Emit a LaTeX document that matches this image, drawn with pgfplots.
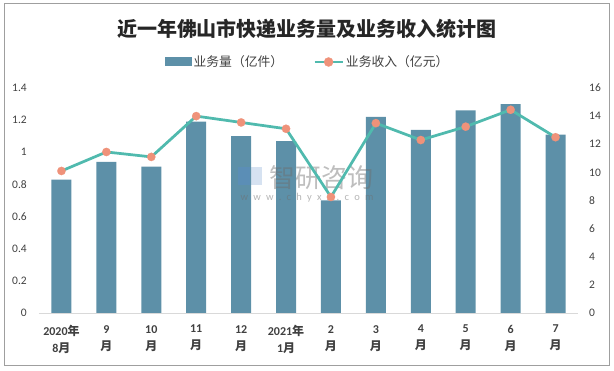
\documentclass[border=0pt]{standalone}
\usepackage{pgfplots}
\pgfplotsset{compat=1.18}
\usepackage{fontspec}
\setmainfont{Carlito}
\newfontfamily\cjk{Noto Sans CJK SC}
\definecolor{barc}{RGB}{93,144,168}
\definecolor{linec}{RGB}{80,186,174}
\definecolor{markc}{RGB}{239,146,122}
\definecolor{txt}{RGB}{64,64,64}
\definecolor{wm}{RGB}{110,110,110}
\definecolor{wmb}{RGB}{90,140,200}
\begin{document}
\begin{tikzpicture}[x=1pt,y=1pt]
\path[use as bounding box] (0,0) rectangle (614,371);
\draw[gray!75, line width=1pt] (4.5,5) rectangle (609.5,367.5);
\node[font=\cjk\bfseries\fontsize{20}{24}\selectfont, text=black!85] at (307,342) {近一年佛山市快递业务量及业务收入统计图};
\begin{axis}[
  at={(39pt,58pt)}, anchor=south west,
  scale only axis, width=539pt, height=225pt,
  xmin=-0.5, xmax=11.5, ymin=0, ymax=1.4,
  ytick={0,0.2,0.4,0.6,0.8,1,1.2,1.4},
  xtick={0,...,11},
  xticklabels={{2020{\cjk 年}\\8{\cjk 月}},{9\\{\cjk 月}},{10\\{\cjk 月}},{11\\{\cjk 月}},{12\\{\cjk 月}},{2021{\cjk 年}\\1{\cjk 月}},{2\\{\cjk 月}},{3\\{\cjk 月}},{4\\{\cjk 月}},{5\\{\cjk 月}},{6\\{\cjk 月}},{7\\{\cjk 月}}},
  separate axis lines,
  axis x line*=bottom, axis y line*=left,
  x axis line style={-, draw=black!15, line width=0.8pt},
  y axis line style={draw=none},
  major tick length=0pt, tick style={draw=none},
  /pgf/number format/assume math mode=true,
  yticklabel style={font=\fontsize{11.5}{13}\selectfont, text=txt, inner sep=0pt, anchor=east},
  yticklabel shift=12pt,
  xticklabel style={font=\bfseries\fontsize{12}{17}\selectfont, text=txt, align=center, inner sep=0pt, anchor=north},
  xticklabel shift=12pt,
  legend style={at={(axis description cs:0.5,1)}, anchor=center, yshift=26pt, xshift=-1pt, draw=none, fill=none,
    font=\cjk\fontsize{12.8}{14}\selectfont, text=txt, legend columns=2,
    /tikz/every even column/.append style={column sep=28pt}},
  legend cell align=left,
]
\addplot[ybar, bar width=20pt, fill=barc, draw=none,
  legend image code/.code={\fill[barc] (0pt,-4.5pt) rectangle (27pt,4.5pt);}]
  coordinates {(0,0.83) (1,0.94) (2,0.91) (3,1.19) (4,1.10) (5,1.07) (6,0.70) (7,1.22) (8,1.14) (9,1.26) (10,1.30) (11,1.11)};
\addlegendentry{业务量（亿件）}
\addlegendimage{legend image code/.code={\draw[linec, line width=2.75pt] (0pt,0pt)--(28pt,0pt); \fill[markc] (14pt,0pt) circle (4.5pt);}}
\addlegendentry{业务收入（亿元）}
\end{axis}
\node[font=\cjk\fontsize{26}{28}\selectfont, text=wm, opacity=0.45, anchor=west, inner sep=0pt] at (269,193) {智研咨询};
\node[font=\fontsize{10.5}{12}\selectfont, text=wm, opacity=0.5, inner sep=0pt] at (307,173) {w\,\,\,w\,\,\,w\,\,\,.\,\,\,c\,\,\,h\,\,\,y\,\,\,x\,\,\,x\,\,\,.\,\,\,c\,\,\,o\,\,\,m};
\fill[wmb, opacity=0.45] (238,186) rectangle (250,204);
\fill[wmb, opacity=0.25] (251,186) rectangle (262,204);
\begin{axis}[
  at={(39pt,58pt)}, anchor=south west,
  scale only axis, width=539pt, height=225pt,
  xmin=-0.5, xmax=11.5, ymin=0, ymax=16,
  ytick={0,2,4,6,8,10,12,14,16},
  axis x line=none, axis y line*=right,
  y axis line style={draw=none},
  major tick length=0pt, tick style={draw=none},
  /pgf/number format/assume math mode=true,
  yticklabel style={font=\fontsize{11.5}{13}\selectfont, text=txt, inner sep=0pt, anchor=west},
  yticklabel shift=11pt,
]
\addplot[linec, line width=2.75pt, mark=*, mark size=4.2pt, mark options={solid, fill=markc, draw=markc, line width=0.1pt}]
  coordinates {(0,10.1) (1,11.45) (2,11.1) (3,14.0) (4,13.55) (5,13.1) (6,8.25) (7,13.5) (8,12.3) (9,13.25) (10,14.45) (11,12.5)};
\end{axis}
\end{tikzpicture}
\end{document}
